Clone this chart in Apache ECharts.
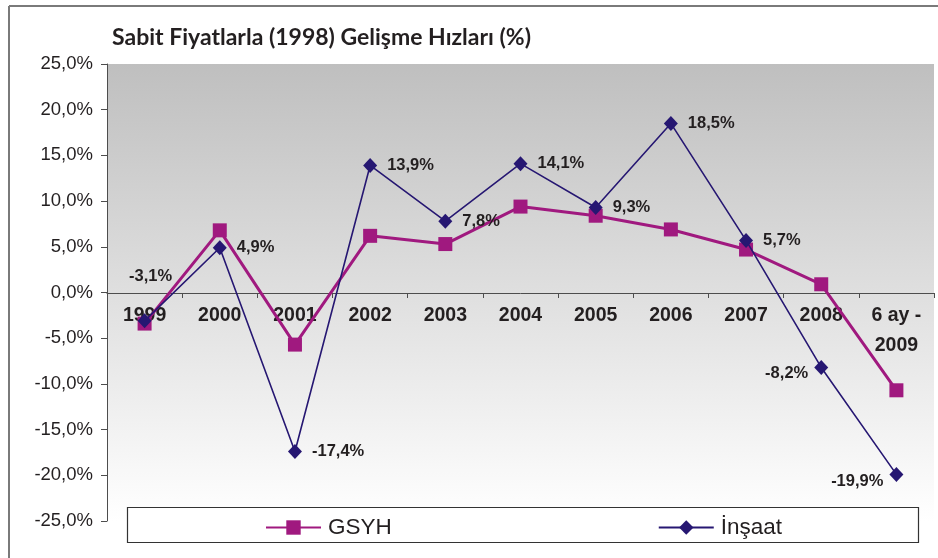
<!DOCTYPE html>
<html>
<head>
<meta charset="utf-8">
<script src="https://cdn.jsdelivr.net/npm/echarts@6/dist/echarts.min.js"></script>
<style>
  html, body { margin: 0; padding: 0; background: #fff; }
  #main { width: 938px; height: 558px; }
</style>
</head>
<body>
<div id="main"></div>
<script>
var categories = ['1999', '2000', '2001', '2002', '2003', '2004', '2005', '2006', '2007', '2008', '6 ay -\n2009'];
var gsyh = [-3.4, 6.8, -5.7, 6.2, 5.3, 9.4, 8.4, 6.9, 4.7, 0.9, -10.7];
var insaat = [-3.1, 4.9, -17.4, 13.9, 7.8, 14.1, 9.3, 18.5, 5.7, -8.2, -19.9];
var yTicks = [-25, -20, -15, -10, -5, 0, 5, 10, 15, 20, 25];

function pct(v) {
  return v.toFixed(1).replace('.', ',') + '%';
}

// label placement per point of the İnşaat line
var labelPos = ['top', 'right', 'right', 'right', 'right', 'right', 'right', 'right', 'right', 'left', 'left'];
var insaatData = insaat.map(function (v, i) {
  var p = labelPos[i];
  var lab = { position: p, distance: p === 'top' ? 28 : (p === 'left' ? 6 : 10) };
  if (i === 0) lab.offset = [6, 0];
  if (i === 9) lab.offset = [0, 6];
  if (i === 10) lab.offset = [0, 7];
  return { value: v, label: lab };
});

var chart = echarts.init(document.getElementById('main'));
chart.setOption({
  animation: false,
  backgroundColor: '#ffffff',
  title: {
    text: 'Sabit Fiyatlarla (1998) Gelişme Hızları (%)',
    left: 107,
    top: 21,
    textStyle: { fontFamily: 'Lato', fontWeight: 'bold', fontSize: 23, color: '#231f20' }
  },
  graphic: [
    { type: 'line', shape: { x1: 9, y1: 6, x2: 938, y2: 6 }, style: { stroke: '#7a7a7a', lineWidth: 2 }, z: 10 },
    { type: 'line', shape: { x1: 9, y1: 6, x2: 9, y2: 558 }, style: { stroke: '#7a7a7a', lineWidth: 2 }, z: 10 },
    { type: 'rect', shape: { x: 127.5, y: 507.5, width: 791, height: 35 }, style: { fill: '#ffffff', stroke: '#333333', lineWidth: 1.2 }, z: 5 }
  ],
  grid: {
    left: 107, right: 4, top: 64, bottom: 37,
    outerBoundsMode: 'none',
    containLabel: false,
    show: true,
    borderWidth: 0,
    backgroundColor: {
      type: 'linear', x: 0, y: 0, x2: 0, y2: 1,
      colorStops: [{ offset: 0, color: '#bfbfbf' }, { offset: 1, color: '#ffffff' }]
    }
  },
  legend: {
    left: 260,
    top: 511,
    z: 20,
    itemWidth: 55,
    itemHeight: 18,
    itemGap: 266,
    textStyle: { fontFamily: 'Liberation Sans', fontSize: 22.5, color: '#231f20', padding: [0, 0, 0, 2] },
    data: ['GSYH', 'İnşaat']
  },
  xAxis: {
    type: 'category',
    data: categories,
    boundaryGap: true,
    offset: -228,
    axisLine: { onZero: false, lineStyle: { color: '#4d4d4d', width: 1 } },
    axisTick: { show: true, length: 5, lineStyle: { color: '#4d4d4d' } },
    axisLabel: {
      margin: 8, interval: 0, lineHeight: 30,
      fontFamily: 'Liberation Sans', fontWeight: 'bold', fontSize: 19.5, color: '#231f20'
    },
    splitLine: { show: false }
  },
  yAxis: {
    type: 'value',
    min: yTicks[0],
    max: yTicks[yTicks.length - 1],
    interval: 5,
    axisLine: { show: true, lineStyle: { color: '#4d4d4d', width: 1 } },
    axisTick: { show: true, length: 6, lineStyle: { color: '#4d4d4d' } },
    axisLabel: {
      margin: 14,
      fontFamily: 'Liberation Sans', fontSize: 18.5, color: '#231f20',
      formatter: function (v) { return pct(v); }
    },
    splitLine: { show: false }
  },
  series: [
    {
      name: 'GSYH',
      type: 'line',
      data: gsyh,
      color: '#a0197f',
      symbol: 'rect',
      symbolSize: 14,
      lineStyle: { width: 3, color: '#a0197f' },
      itemStyle: { color: '#a0197f' },
      z: 3
    },
    {
      name: 'İnşaat',
      type: 'line',
      data: insaatData,
      color: '#261772',
      symbol: 'diamond',
      symbolSize: [14, 15],
      lineStyle: { width: 1.6, color: '#261772' },
      itemStyle: { color: '#261772' },
      label: {
        show: true,
        fontFamily: 'Liberation Sans', fontWeight: 'bold', fontSize: 16.5, color: '#231f20',
        formatter: function (p) { return pct(p.value); }
      },
      z: 4
    }
  ]
});
</script>
</body>
</html>
